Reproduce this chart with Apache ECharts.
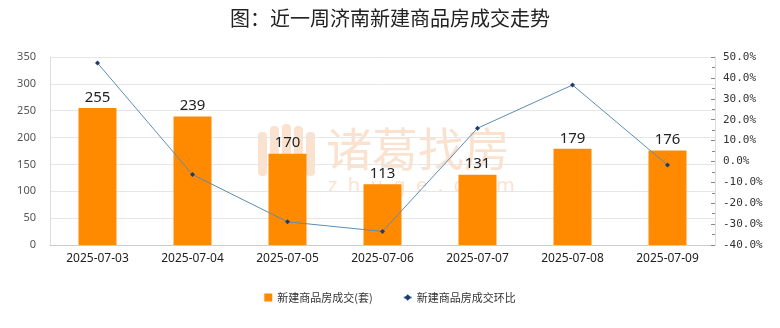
<!DOCTYPE html>
<html><head><meta charset="utf-8">
<script src="https://cdn.jsdelivr.net/npm/echarts@6/dist/echarts.min.js"></script>
<style>html,body{margin:0;padding:0;background:#fff}#c{width:780px;height:328px}</style>
</head><body><div id="c"></div>
<script>
const categories = ['2025-07-03','2025-07-04','2025-07-05','2025-07-06','2025-07-07','2025-07-08','2025-07-09'];
const volume = [255, 239, 170, 113, 131, 179, 176];
const ratio = [47.1, -6.3, -28.9, -33.5, 15.9, 36.6, -1.7];
const titleText = '图：近一周济南新建商品房成交走势';
const barName = '新建商品房成交(套)';
const lineName = '新建商品房成交环比';

const wm = 'rgba(242,180,130,0.38)';
const chart = echarts.init(document.getElementById('c'));
chart.setOption({
  animation: false,
  title: {text: titleText, left: 'center', top: 3,
    textStyle: {fontSize: 20, fontWeight: 'normal', color: '#222', fontFamily: 'Noto Sans CJK SC'}},
  graphic: [
    {type: 'group', z: -10, children: [
      {type: 'rect', shape: {x: 258, y: 132, width: 9, height: 44, r: 4}, style: {fill: wm}},
      {type: 'rect', shape: {x: 270, y: 126, width: 9, height: 52, r: 4}, style: {fill: wm}},
      {type: 'rect', shape: {x: 282, y: 124, width: 9, height: 54, r: 4}, style: {fill: wm}},
      {type: 'rect', shape: {x: 294, y: 126, width: 9, height: 52, r: 4}, style: {fill: wm}},
      {type: 'rect', shape: {x: 306, y: 132, width: 9, height: 44, r: 4}, style: {fill: wm}},
      {type: 'text', x: 326, y: 126, style: {text: '诸葛找房', fontSize: 46, fill: wm, fontFamily: 'Noto Sans CJK SC'}},
      {type: 'text', x: 328, y: 176, style: {text: 'z  h  u  g  e  .  c  o  m', fontSize: 20, fill: wm, fontFamily: 'Noto Sans'}}
    ]}
  ],
  legend: {bottom: 20, left: 'center', itemWidth: 8, itemHeight: 8, itemGap: 30,
    textStyle: {fontSize: 11, color: '#333', fontFamily: 'Noto Sans CJK SC'},
    data: [{name: barName, icon: 'rect'}, {name: lineName}]},
  grid: {left: 50, right: 65, top: 57, bottom: 83},
  xAxis: {type: 'category', data: categories,
    axisLine: {lineStyle: {color: '#ccc'}}, axisTick: {show: false},
    axisLabel: {color: '#222', fontSize: 12, margin: 8, fontFamily: 'Noto Sans'}},
  yAxis: [
    {type: 'value', min: 0, max: 350, interval: 50,
      axisLine: {show: true, lineStyle: {color: '#ddd'}}, axisTick: {show: false},
      splitLine: {lineStyle: {color: '#e6e6e6'}},
      axisLabel: {color: '#555', fontSize: 11, margin: 14, fontFamily: 'Noto Sans'}},
    {type: 'value', min: -40, max: 50, interval: 10,
      axisLine: {show: true, lineStyle: {color: '#ddd'}},
      axisTick: {show: true, inside: true, length: 4, lineStyle: {color: '#888'}},
      minorTick: {show: true, splitNumber: 2, length: 3, lineStyle: {color: '#888'}},
      splitLine: {show: false},
      axisLabel: {color: '#333', fontSize: 11, margin: 8, fontFamily: 'DejaVu Sans Mono',
        formatter: v => v.toFixed(1) + '%'}}
  ],
  series: [
    {name: barName, type: 'bar', data: volume, barWidth: 38, yAxisIndex: 0,
      itemStyle: {color: '#FF8A00'},
      label: {show: true, position: 'top', color: '#222', fontSize: 15, distance: 3, fontFamily: 'Noto Sans'}},
    {name: lineName, type: 'line', data: ratio, yAxisIndex: 1,
      symbol: 'diamond', symbolSize: 5,
      lineStyle: {color: '#5b8db5', width: 1},
      itemStyle: {color: '#1f3d6b'}}
  ]
});
</script></body></html>
